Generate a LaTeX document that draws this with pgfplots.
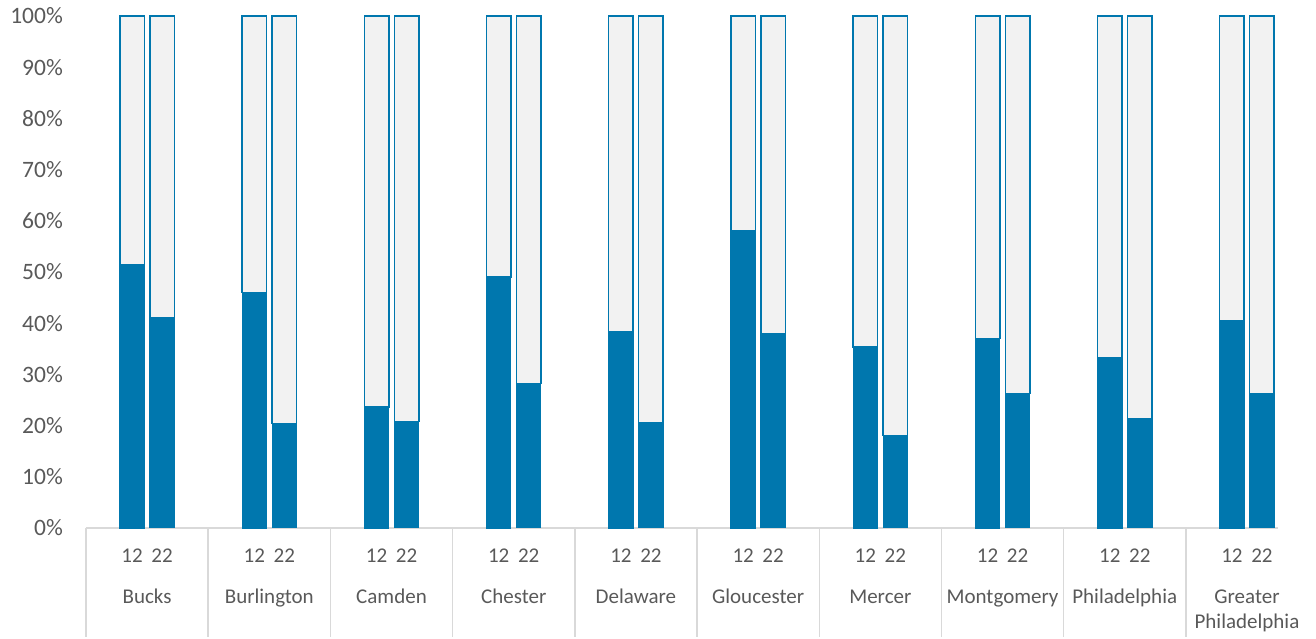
\documentclass[border=0pt]{standalone}
\usepackage{pgfplots}
\usepackage{pgfplotstable}
\pgfplotsset{compat=1.18}
\usepackage{fontspec}
\setmainfont{Carlito}
\definecolor{barblue}{HTML}{0077AE}
\definecolor{bargray}{HTML}{F2F2F2}
\definecolor{txtgray}{HTML}{595959}
\definecolor{linegray}{HTML}{D9D9D9}

% v = blue share, r = remaining share
\pgfplotstableread{
x   v12  r12  v22  r22
0.5 51.5 48.5 41.1 58.9
1.5 46.0 54.0 20.4 79.6
2.5 23.6 76.4 20.8 79.2
3.5 49.0 51.0 28.2 71.8
4.5 38.3 61.7 20.6 79.4
5.5 58.1 41.9 37.9 62.1
6.5 35.4 64.6 18.1 81.9
7.5 37.0 63.0 26.3 73.7
8.5 33.2 66.8 21.3 78.7
9.5 40.4 59.6 26.3 73.7
}\data

\pgfplotsset{common/.style={
  scale only axis, width=1191.7bp, height=512bp,
  xmin=0, xmax=9.752, ymin=0, ymax=100,
  at={(0,0)}, anchor=south west,
  ybar stacked, bar width=24.5bp,
}}

\begin{document}
\begin{tikzpicture}
\path[use as bounding box] (-86bp,-111bp) rectangle (1230bp,528bp);
\begin{axis}[common,
  bar shift=-15bp,
  axis x line*=bottom, axis y line*=left,
  x axis line style={-, draw=linegray, line width=2bp},
  y axis line style={draw=none},
  ytick={0,10,...,100},
  yticklabels={0\%,10\%,20\%,30\%,40\%,50\%,60\%,70\%,80\%,90\%,100\%},
  ytick style={draw=none},
  yticklabel style={inner sep=0pt, xshift=86bp, anchor=east,
    font=\fontsize{23.5bp}{28bp}\selectfont, text=txtgray},
  xtick={0,1,...,9}, xticklabel={},
  tick align=outside,
  xtick style={draw=linegray, line width=1.5bp},
  major tick length=109bp,
  extra x ticks={0.5,1.5,...,9.5},
  extra x tick labels={
    {12\hspace{8.7bp}22\\[16.4bp]Bucks},
    {12\hspace{8.7bp}22\\[16.4bp]Burlington},
    {12\hspace{8.7bp}22\\[16.4bp]Camden},
    {12\hspace{8.7bp}22\\[16.4bp]Chester},
    {12\hspace{8.7bp}22\\[16.4bp]Delaware},
    {12\hspace{8.7bp}22\\[16.4bp]Gloucester},
    {12\hspace{8.7bp}22\\[16.4bp]Mercer},
    {12\hspace{8.7bp}22\\[16.4bp]Montgomery},
    {12\hspace{8.7bp}22\\[16.4bp]Philadelphia},
    {12\hspace{8.7bp}22\\[16.4bp]Greater\\Philadelphia}},
  extra x tick style={major tick length=0pt,
    xticklabel style={anchor=north, inner sep=0pt, yshift=-20.3bp, align=center,
      font=\fontsize{21bp}{25.2bp}\selectfont, text=txtgray}},
]
\addplot[fill=barblue, draw=barblue, line width=1bp] table[x=x, y=v12] {\data};
\addplot[fill=bargray, draw=barblue, line width=1.5bp] table[x=x, y=r12] {\data};
\end{axis}
\begin{axis}[common, hide axis, bar shift=15bp]
\addplot[fill=barblue, draw=barblue, line width=1bp] table[x=x, y=v22] {\data};
\addplot[fill=bargray, draw=barblue, line width=1.5bp] table[x=x, y=r22] {\data};
\end{axis}
\end{tikzpicture}
\end{document}
